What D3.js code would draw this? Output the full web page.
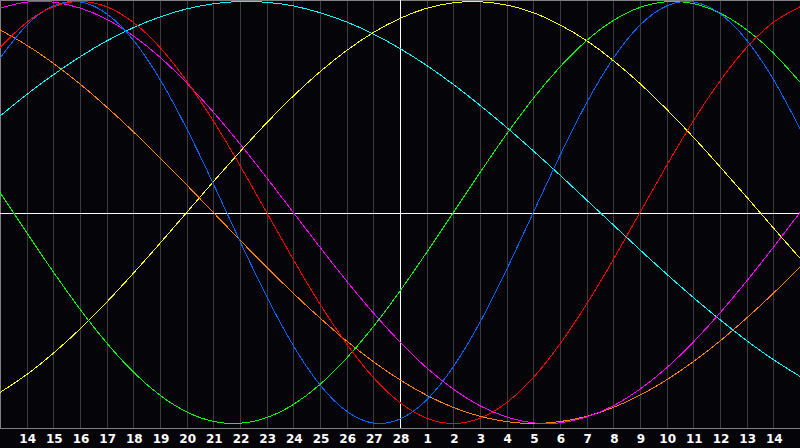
<!DOCTYPE html>
<html>
<head>
<meta charset="utf-8">
<script src="https://cdn.jsdelivr.net/npm/d3@7"></script>
<style>
  html, body { margin: 0; padding: 0; background: #050509; }
  svg { display: block; }
</style>
</head>
<body>
<svg id="chart" width="800" height="448"></svg>
<script>
// Day labels (positions 1..29 on a 0..30 day axis); "28" is today
const dayLabels = ["14","15","16","17","18","19","20","21","22","23","24","25","26","27","28",
                   "1","2","3","4","5","6","7","8","9","10","11","12","13","14"];
const todayIndex = 15;

// Series values, one per day position 0..30
const physical = [0.731,0.888,0.979,0.998,0.942,0.817,0.631,0.398,0.136,-0.136,-0.398,-0.631,-0.817,-0.942,-0.998,-0.979,-0.888,-0.731,-0.520,-0.270,0,0.270,0.520,0.731,0.888,0.979,0.998,0.942,0.817,0.631,0.398];
const emotional = [0.782,0.901,0.975,1,0.975,0.901,0.782,0.623,0.434,0.223,0,-0.223,-0.434,-0.623,-0.782,-0.901,-0.975,-1,-0.975,-0.901,-0.782,-0.623,-0.434,-0.223,0,0.223,0.434,0.623,0.782,0.901,0.975];
const intellectual = [0.095,-0.095,-0.282,-0.458,-0.618,-0.756,-0.866,-0.945,-0.990,-0.999,-0.972,-0.910,-0.815,-0.690,-0.541,-0.372,-0.189,0,0.189,0.372,0.541,0.690,0.815,0.910,0.972,0.999,0.990,0.945,0.866,0.756,0.618];
const intuitive = [0.969,0.997,0.997,0.969,0.916,0.837,0.736,0.614,0.476,0.325,0.165,0,-0.165,-0.325,-0.476,-0.614,-0.736,-0.837,-0.916,-0.969,-0.997,-0.997,-0.969,-0.916,-0.837,-0.736,-0.614,-0.476,-0.325,-0.165,0];
const aesthetic = [-0.853,-0.768,-0.667,-0.552,-0.425,-0.288,-0.146,0,0.146,0.288,0.425,0.552,0.667,0.768,0.853,0.920,0.968,0.994,0.999,0.983,0.947,0.889,0.814,0.720,0.611,0.489,0.357,0.217,0.073,-0.073,-0.217];
const awareness = [0.866,0.793,0.707,0.609,0.5,0.383,0.259,0.131,0,-0.131,-0.259,-0.383,-0.5,-0.609,-0.707,-0.793,-0.866,-0.924,-0.966,-0.991,-1,-0.991,-0.966,-0.924,-0.866,-0.793,-0.707,-0.609,-0.5,-0.383,-0.259];
const spiritual = [0.457,0.559,0.653,0.738,0.813,0.876,0.927,0.965,0.989,1.000,0.996,0.979,0.947,0.903,0.846,0.777,0.697,0.607,0.508,0.403,0.292,0.177,0.059,-0.059,-0.177,-0.292,-0.403,-0.508,-0.607,-0.697,-0.777];

const seriesNames = ["spiritual","aesthetic","awareness","intuitive","intellectual","physical","emotional"];
const seriesData = [spiritual, aesthetic, awareness, intuitive, intellectual, physical, emotional];
const seriesColors = ["#00ffff","#ffff00","#ff8000","#ff00ff","#00ff00","#0066ff","#ff0000"];

const W = 800, H = 448;
const plotTop = 0, plotBottom = 428;

const svg = d3.select("#chart");
svg.append("rect").attr("width", W).attr("height", H).attr("fill", "#050509");

const x = d3.scaleLinear().domain([0, 30]).range([0, 800]);
const y = d3.scaleLinear().domain([-1, 1]).range([423.5, 1.5]);

// vertical day gridlines
const gridIdx = d3.range(1, 30);
svg.append("g").selectAll("line").data(gridIdx).join("line")
  .attr("x1", d => Math.round(x(d)) + 0.5).attr("x2", d => Math.round(x(d)) + 0.5)
  .attr("y1", plotTop).attr("y2", plotBottom)
  .attr("stroke", "#3c3c3c").attr("stroke-width", 1)
  .attr("shape-rendering", "crispEdges");

// borders
svg.append("line").attr("x1", 0).attr("x2", W).attr("y1", 0.5).attr("y2", 0.5)
  .attr("stroke", "#808080").attr("shape-rendering", "crispEdges");
svg.append("line").attr("x1", 0.5).attr("x2", 0.5).attr("y1", 0).attr("y2", plotBottom)
  .attr("stroke", "#808080").attr("shape-rendering", "crispEdges");

// today line and zero line
svg.append("line")
  .attr("x1", Math.round(x(todayIndex)) + 0.5).attr("x2", Math.round(x(todayIndex)) + 0.5)
  .attr("y1", plotTop).attr("y2", plotBottom)
  .attr("stroke", "#ffffff").attr("shape-rendering", "crispEdges");
svg.append("line")
  .attr("x1", 0).attr("x2", W)
  .attr("y1", Math.round(y(0)) + 0.5).attr("y2", Math.round(y(0)) + 0.5)
  .attr("stroke", "#ffffff").attr("shape-rendering", "crispEdges");

// curves
const line = d3.line()
  .x((d, i) => x(i))
  .y(d => y(d))
  .curve(d3.curveNatural);

svg.append("g").selectAll("path").data(seriesData).join("path")
  .attr("d", d => line(d))
  .attr("fill", "none")
  .attr("stroke", (d, i) => seriesColors[i])
  .attr("stroke-width", 1)
  .attr("shape-rendering", "crispEdges");

// bottom axis line
svg.append("line").attr("x1", 0).attr("x2", W).attr("y1", plotBottom + 0.5).attr("y2", plotBottom + 0.5)
  .attr("stroke", "#808080").attr("shape-rendering", "crispEdges");

// day labels
svg.append("g").selectAll("text").data(dayLabels).join("text")
  .attr("x", (d, i) => x(i + 1) + 1)
  .attr("y", 443)
  .attr("text-anchor", "middle")
  .attr("fill", "#ffffff")
  .attr("font-family", "DejaVu Sans, sans-serif")
  .attr("font-weight", "bold")
  .attr("font-size", "12px")
  .text(d => d);
</script>
</body>
</html>
